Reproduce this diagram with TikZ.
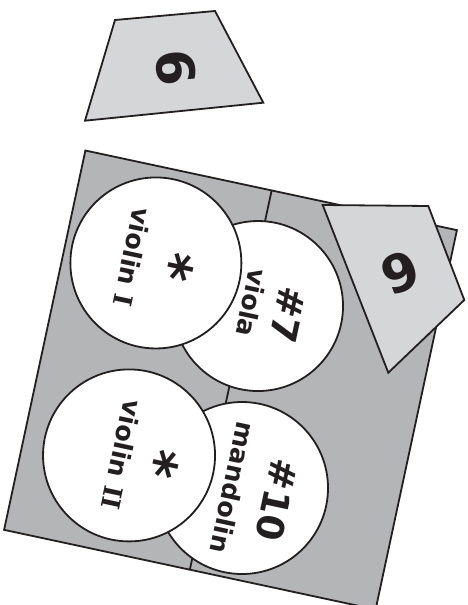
\documentclass[tikz,border=0pt]{standalone}
\usepackage{fontspec}
\setmainfont{DejaVu Sans}
\newfontfamily\serifI{DejaVu Serif}
\definecolor{ink}{HTML}{231F20}
\definecolor{sqfill}{HTML}{B4B5B7}
\definecolor{tagfill}{HTML}{D5D6D8}
\begin{document}
\begin{tikzpicture}[x=1pt,y=-1pt,line join=miter,
  edge/.style={draw=ink,line width=1.8pt},
  disc/.style={edge,fill=white,circle,inner sep=0pt},
  txt/.style={text=ink,inner sep=0pt,anchor=center},
  bigtxt/.style={txt,font=\bfseries\fontsize{37}{37}\selectfont},
  smalltxt/.style={txt,font=\bfseries\fontsize{25.5}{25.5}\selectfont},
  startxt/.style={txt,font=\bfseries\fontsize{55}{55}\selectfont},
  sixtxt/.style={txt,font=\bfseries\fontsize{52}{52}\selectfont},
]
\useasboundingbox (0,0) rectangle (468,605);

% top tag
\coordinate (ta) at (115,20);
\coordinate (tb) at (215,11);
\coordinate (tc) at (263.3,102.7);
\coordinate (td) at (85,120.7);
\draw[edge,fill=tagfill] (ta) -- (tb) -- (tc) -- (td) -- cycle;
\node[sixtxt,rotate=-85] (tsix) at (175.7,67.7) {6};

\begin{scope}[shift={(230.5,380)},rotate=-12.1]
  \coordinate (sqA) at (-190,-194);
  \coordinate (sqB) at (190,-194);
  \coordinate (sqC) at (190,194);
  \coordinate (sqD) at (-190,194);
  \coordinate (dtop) at (0.5,-194);
  \coordinate (dbot) at (0,194);
  \draw[edge,fill=sqfill] (sqA) -- (sqB) -- (sqC) -- (sqD) -- cycle;
  \draw[edge] (dtop) -- (dbot);
  % lower-layer circles
  \node[disc,minimum size=170pt] (cviola) at (11.4,-78.1) {};
  \node[disc,minimum size=172pt] (cmand) at (33.9,103.2) {};
  % upper-layer circles
  \node[disc,minimum size=171pt] (cvone) at (-97.5,-98.8) {};
  \node[disc,minimum size=172pt] (cvtwo) at (-83.4,95) {};
  % texts
  \node[startxt,rotate=-102.1] (svone) at (-79.5,-99.9) {*};
  \node[smalltxt,rotate=-102.1] (nvone) at (-121.4,-99.6) {violin {\serifI I}};
  \node[bigtxt,rotate=-102.1] (sviola) at (42.5,-75.6) {\#7};
  \node[smalltxt,rotate=-102.1] (nviola) at (4.8,-79.8) {viola};
  \node[startxt,rotate=-102.1] (svtwo) at (-53.1,96.6) {*};
  \node[smalltxt,rotate=-102.1] (nvtwo) at (-90.6,96.1) {violin {\serifI II}};
  \node[bigtxt,rotate=-102.1] (smand) at (70.4,107.7) {\#10};
  \node[smalltxt,rotate=-102.1] (nmand) at (25.1,105.1) {mandolin};
\end{scope}

% right tag
\coordinate (ra) at (322.7,205);
\coordinate (rb) at (428.3,206);
\coordinate (rc) at (464.3,300);
\coordinate (rd) at (388.3,372.7);
\draw[edge,fill=tagfill] (ra) -- (rb) -- (rc) -- (rd) -- cycle;
\node[sixtxt,rotate=-159] (rsix) at (400.7,272.3) {6};
\end{tikzpicture}
\end{document}
